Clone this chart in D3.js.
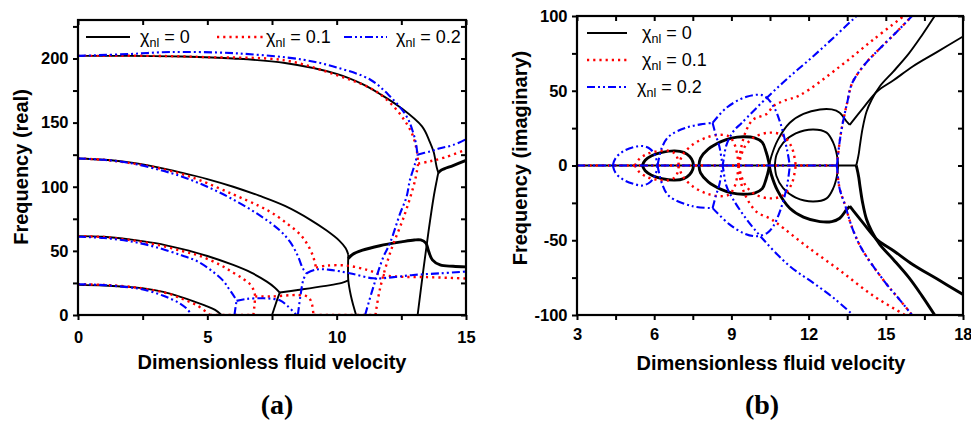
<!DOCTYPE html>
<html>
<head>
<meta charset="utf-8">
<script src="https://cdnjs.cloudflare.com/ajax/libs/d3/7.8.5/d3.min.js"></script>
<style>
  body { margin: 0; background: #fff; }
  .tick text { font-family: "Liberation Sans", Arial, sans-serif; font-weight: bold; font-size: 16.5px; fill: #000; }
  .title { font-family: "Liberation Sans", Arial, sans-serif; font-weight: bold; font-size: 20px; }
  .leg { font-family: "Liberation Sans", Arial, sans-serif; font-size: 18px; }
  .panel { font-family: "Liberation Serif", "Times New Roman", serif; font-weight: bold; font-size: 28px; }
</style>
</head>
<body>
<div id="chart"></div>
<script>
// ---------- data (velocity, frequency) ----------
var legendLabels = ["0", "0.1", "0.2"];

// panel (a): real part
var realBlack = [
  [[0,23.5],[1,23],[2,21.8],[2.6,20.6],[3.3,18],[3.9,14.5],[4.5,10.5],[4.9,7.5],[5.3,4],[5.55,0]],
  [[5.55,0],[7.5,0]],
  [[0,61.5],[1,61],[2,59],[3,56],[4,51.5],[5,46],[6,39],[6.7,33],[7.3,26],[7.6,21.5],[7.8,17.5]],
  [[7.5,0],[7.6,6],[7.7,12],[7.8,17.5]],
  [[7.8,17.5],[8.5,19.5],[9.5,22.5],[10.2,25],[10.45,27]],
  [[0,122],[1,121],[2,119],[3,115.5],[4,111],[5,106],[6,100],[7,93],[8,85],[9,74],[9.6,66],[10.1,58],[10.35,52],[10.45,47]],
  [[10.45,47],[10.44,38],[10.45,27],[10.55,15],[10.65,7],[10.75,0]],
  [[10.75,0],[13.13,0]],
  [[10.45,44],[10.6,47],[11,50.5],[11.67,54],[12.5,57],[13,58.5],[13.25,58.5],[13.45,56],[13.55,50],[13.7,43],[14,39],[14.5,38],[15,37.5]],
  [[0,202],[2,202],[4,201.5],[6,200],[8,196.5],[10,188],[11,180],[11.7,172],[12.45,162],[13.3,147],[13.6,135],[13.75,127],[13.87,115],[13.93,111]],
  [[13.13,0],[13.35,35],[13.55,65],[13.75,92],[13.87,105],[13.93,111]],
  [[13.93,111],[14.05,113],[14.5,116.5],[15,120.5]]
];
var realRed = [
  [[0,24],[1,23.5],[2,22],[3,19],[3.6,16],[4.1,12],[4.6,7.5],[5.1,0]],
  [[5.1,0],[6.8,0]],
  [[0,61.5],[1,60.8],[2,58.5],[3,55],[4,50],[4.72,46],[5.5,39],[6,33],[6.4,28],[6.65,24],[6.8,19],[6.85,14.5]],
  [[6.78,0],[6.82,7],[6.85,14.5]],
  [[6.85,14.5],[7.5,14.5],[8.5,15.5],[8.9,14],[9.05,8],[9.1,0]],
  [[9.1,0],[11.5,0]],
  [[0,122],[1,121],[2,118.5],[3,115],[4,110],[4.72,105],[6,94],[7,85],[7.55,79],[8.1,71],[8.58,63],[8.9,54],[9.1,45],[9.2,37]],
  [[9.2,37],[9.6,38.5],[10.4,38.5],[11.2,35],[11.7,31.5],[12.3,30],[13.5,29.5],[15,28.5]],
  [[11.5,0],[11.67,20],[12.06,48],[12.64,79],[13.03,105],[13.15,118]],
  [[0,202],[3,202],[5,201],[8,198.5],[10,187],[11.29,177],[11.93,168],[12.51,155],[12.9,142],[13.09,129],[13.15,118]],
  [[13.15,118],[13.6,119.8],[14.2,123],[15,129]]
];
var realBlue = [
  [[0,24],[1,23.3],[2,21.5],[2.6,19.5],[3.3,15],[3.9,9.5],[4.2,5],[4.4,0]],
  [[4.4,0],[6.05,0]],
  [[0,61],[1,60],[2,57.5],[3,53],[4,46.5],[4.6,42],[5.2,34],[5.6,27],[5.85,20],[6.05,14],[6.13,11]],
  [[6.05,0],[6.09,6],[6.13,11]],
  [[6.13,11],[6.5,12.5],[7.2,13],[7.8,11.5],[8.1,7],[8.45,0]],
  [[8.45,0],[11.1,0]],
  [[0,122],[1,121],[2,118.5],[3,114],[4,108],[5,100],[6,90],[7,78],[7.8,66],[8.2,57],[8.5,46],[8.7,36],[8.84,32.6]],
  [[8.5,0],[8.6,15],[8.72,28],[8.84,32.6]],
  [[8.84,32.6],[9.23,35.5],[9.74,35.2],[10.5,32.6],[11.42,28.6],[12.2,29.5],[12.96,31.2],[14,32.5],[15,33.9]],
  [[11.1,0],[11.42,22],[11.8,45],[12.06,56],[12.45,79],[12.7,92],[12.83,105],[13.03,118],[13.12,125]],
  [[0,202],[2,203.5],[3.56,205],[6.13,204],[8.71,199],[10,193],[11.29,183.6],[12.06,170.5],[12.7,155],[12.96,142],[13.08,132],[13.12,125]],
  [[13.12,125],[13.6,127.5],[14,130],[14.5,132.5],[15,137]]
];

// panel (b): imaginary part
var imagBlack = [
  [[3,0],[13.85,0]],
  [[5.54,0],[5.65,3.5],[5.9,6.5],[6.3,8.8],[6.8,9.8],[7.15,8.8],[7.38,6],[7.5,2.5],[7.52,0]],
  [[5.54,0],[5.65,-3.5],[5.9,-6.5],[6.3,-8.8],[6.8,-9.8],[7.15,-8.8],[7.38,-6],[7.5,-2.5],[7.52,0]],
  [[7.74,0],[7.8,5],[8.1,11],[8.6,16],[9,18.3],[9.46,19.2],[9.9,18.5],[10.2,15.5],[10.35,9],[10.45,2.5],[10.47,0]],
  [[7.74,0],[7.8,-5],[8.1,-11],[8.6,-16],[9,-18.3],[9.46,-19.2],[9.9,-18.5],[10.2,-15.5],[10.35,-9],[10.45,-2.5],[10.47,0]],
  [[10.69,0],[10.75,7],[11.01,15.2],[11.5,21.5],[12.18,24.1],[12.7,22],[12.96,15.2],[13.1,7],[13.15,0]],
  [[10.69,0],[10.75,-7],[11.01,-15.2],[11.5,-21.5],[12.18,-24.1],[12.7,-22],[12.96,-15.2],[13.1,-7],[13.15,0]],
  [[10.47,0],[10.55,6],[10.8,17],[11.27,28.6],[11.8,34.5],[12.44,37.5],[12.9,37.5],[13.21,35.3],[13.47,29.6],[13.6,27.2]],
  [[10.47,0],[10.55,-6],[10.8,-17],[11.27,-28.6],[11.8,-34.5],[12.44,-37.5],[12.9,-37.5],[13.21,-35.3],[13.47,-29.6],[13.6,-27.2]],
  [[13.6,27.2],[13.75,30.5],[14.1,38],[14.67,49.7],[15.3,57],[16.06,66.4],[17,76],[18,86.3]],
  [[13.6,-27.2],[13.75,-30.5],[14.1,-38],[14.67,-49.7],[15.3,-57],[16.06,-66.4],[17,-76],[18,-86.3]],
  [[13.85,0],[13.88,2],[13.95,8],[13.99,13],[14.1,25],[14.25,36],[14.45,44],[14.77,53],[15.3,63],[15.9,75],[16.4,87],[16.9,100]],
  [[13.85,0],[13.88,-2],[13.95,-8],[13.99,-13],[14.1,-25],[14.25,-36],[14.45,-44],[14.77,-53],[15.3,-63],[15.9,-75],[16.4,-87],[16.9,-100]]
];
var imagRed = [
  [[3,0],[13.1,0]],
  [[5.25,0],[5.4,4],[5.7,7.5],[6.1,9.5],[6.5,10],[6.8,8],[6.92,4],[6.95,0]],
  [[5.25,0],[5.4,-4],[5.7,-7.5],[6.1,-9.5],[6.5,-10],[6.8,-8],[6.92,-4],[6.95,0]],
  [[6.95,0],[7.1,7],[7.5,14],[8,18.5],[8.5,20.5],[8.9,19.5],[9.1,15],[9.22,8],[9.28,0]],
  [[6.95,0],[7.1,-7],[7.5,-14],[8,-18.5],[8.5,-20.5],[8.9,-19.5],[9.1,-15],[9.22,-8],[9.28,0]],
  [[9.28,0],[9.38,12],[9.59,24],[9.85,30.8],[10.37,34.5],[10.63,39.7],[11,43],[11.66,47],[13.2,66],[14.5,84],[15.7,100]],
  [[9.28,0],[9.38,-12],[9.6,-22],[9.98,-31],[10.5,-35.5],[10.8,-39],[11.92,-54],[13.2,-70],[14.5,-87],[15.75,-100]],
  [[9.28,0],[9.5,12],[9.9,19],[10.5,22],[11,20],[11.35,12],[11.5,0]],
  [[9.28,0],[9.5,-12],[9.9,-19],[10.5,-22],[11,-20],[11.35,-12],[11.5,0]],
  [[13.1,0],[13.2,15],[13.3,26],[13.5,42],[13.69,55],[14.2,68],[14.73,77.6],[15.4,89],[16.02,100]],
  [[13.1,0],[13.2,-15],[13.43,-27.2],[13.7,-42],[14.08,-56.2],[14.99,-78.5],[15.5,-89],[16.02,-100]]
];
var imagBlue = [
  [[3,0],[13.1,0]],
  [[4.39,0],[4.5,5],[4.8,9.5],[5.2,12.3],[5.55,13],[5.85,11],[6.05,6],[6.13,0]],
  [[4.39,0],[4.5,-5],[4.8,-9.5],[5.2,-12.3],[5.55,-13.4],[5.85,-11],[6.05,-6],[6.13,0]],
  [[6.13,0],[6.3,12],[6.58,19.6],[7.23,25.2],[7.8,27.5],[8.27,28.5]],
  [[6.13,0],[6.3,-12],[6.58,-20.5],[7.49,-27.2],[8.27,-28.5]],
  [[8.27,28.5],[8.4,20],[8.53,12.9],[8.66,0],[8.81,-13.8],[9.07,-22.7],[9.59,-36],[10.24,-49.5],[11.27,-67.4],[12.18,-78.5],[13,-89],[13.73,-100]],
  [[8.27,-28.5],[8.4,-20],[8.53,-12.9],[8.66,0],[8.81,13.8],[9.07,22.7],[9.4,28.5],[10.44,46.4],[11.3,60],[12.18,73.1],[13,86],[13.86,100]],
  [[8.27,28.5],[8.8,38.5],[9.59,46],[10.24,46.8],[10.63,39.7],[10.9,28.5],[11.16,10.7],[11.27,0]],
  [[8.27,-28.5],[8.9,-39],[9.5,-45.5],[9.98,-47.3],[10.4,-45],[10.63,-40.6],[10.9,-30],[11.16,-13.8],[11.27,0]],
  [[13.1,0],[13.2,15],[13.3,26],[13.5,42],[13.69,55],[14.2,68],[14.73,77.6],[15.4,89],[16.02,100]],
  [[13.1,0],[13.2,-15],[13.43,-27.2],[13.7,-42],[14.08,-56.2],[14.99,-78.5],[15.5,-89],[16.02,-100]]
];

// which black segments are drawn with the heavier pen
var boldRealBlack = [8, 11];
var boldImagBlack = [1, 2, 3, 4, 8, 10, 12];

var xTicksA = [0, 2.5, 5, 7.5, 10, 12.5, 15];
var yTicksA = [0, 25, 50, 75, 100, 125, 150, 175, 200, 225];
var xTicksB = [3, 4.5, 6, 7.5, 9, 10.5, 12, 13.5, 15, 16.5, 18];
var yTicksB = [-100, -75, -50, -25, 0, 25, 50, 75, 100];

// ---------- drawing ----------
var svg = d3.select("#chart").append("svg").attr("width", 971).attr("height", 423);

var styles = [
  { color: "#000", dash: null, width: 1.9 },
  { color: "#ff0000", dash: "2.2,4", width: 2.4 },
  { color: "#0000ff", dash: "8,3,2,3,2,3", width: 2.1 }
];

function drawPanel(opt) {
  var x = d3.scaleLinear().domain(opt.xDomain).range([opt.left, opt.right]);
  var y = d3.scaleLinear().domain(opt.yDomain).range([opt.bottom, opt.top]);
  var g = svg.append("g");

  var clipId = "clip" + opt.name;
  svg.append("clipPath").attr("id", clipId).append("rect")
     .attr("x", opt.left).attr("y", opt.top)
     .attr("width", opt.right - opt.left).attr("height", opt.bottom - opt.top);

  var line = d3.line().x(d => x(d[0])).y(d => y(d[1])).curve(d3.curveCatmullRom.alpha(0.5));
  var plot = g.append("g").attr("clip-path", "url(#" + clipId + ")");
  opt.series.forEach(function(segs, i) {
    plot.selectAll(null).data(segs).enter().append("path")
        .attr("d", line)
        .attr("fill", "none")
        .attr("stroke", styles[i].color)
        .attr("stroke-width", (d, k) => (i === 0 && opt.bold.indexOf(k) >= 0) ? 2.9 : styles[i].width)
        .attr("stroke-dasharray", styles[i].dash)
        .attr("stroke-linejoin", "round");
  });

  var fmt = function(d) { return opt.labels.indexOf(d) >= 0 ? d : ""; };

  var bx = g.append("g").attr("transform", "translate(0," + opt.bottom + ")")
     .call(d3.axisBottom(x).tickValues(opt.xTicks).tickFormat(fmt).tickSize(5).tickPadding(opt.xPad))
     .call(a => a.select(".domain").remove());
  if (opt.lastAnchor) bx.selectAll(".tick text").filter(d => d === opt.xDomain[1]).attr("text-anchor", "end").attr("dx", 9);
  g.append("g").attr("transform", "translate(" + opt.left + ",0)")
     .call(d3.axisLeft(y).tickValues(opt.yTicks).tickFormat(fmt).tickSize(5).tickPadding(4.5))
     .call(a => a.select(".domain").remove());
  g.append("g").attr("transform", "translate(0," + opt.top + ")")
     .call(d3.axisTop(x).tickValues(opt.xTicks).tickFormat("").tickSize(-5))
     .call(a => a.select(".domain").remove());
  g.append("g").attr("transform", "translate(" + opt.right + ",0)")
     .call(d3.axisRight(y).tickValues(opt.yTicks).tickFormat("").tickSize(-5))
     .call(a => a.select(".domain").remove());
  g.selectAll(".tick line").attr("stroke-width", 2);

  g.append("rect")
     .attr("x", opt.left).attr("y", opt.top)
     .attr("width", opt.right - opt.left).attr("height", opt.bottom - opt.top)
     .attr("fill", "none").attr("stroke", "#000").attr("stroke-width", 2.2);

  // axis titles
  g.append("text").attr("class", "title")
     .attr("x", opt.xTitle[0]).attr("y", opt.xTitle[1])
     .attr("text-anchor", "middle").text("Dimensionless fluid velocity");
  g.append("text").attr("class", "title")
     .attr("transform", "translate(" + opt.yTitle[0] + "," + opt.yTitle[1] + ") rotate(-90)")
     .attr("text-anchor", "middle").text(opt.yLabel);
  g.append("text").attr("class", "panel")
     .attr("x", opt.tag[0]).attr("y", opt.tag[1])
     .attr("text-anchor", "middle").text(opt.tagText);

  // legend
  opt.legend.forEach(function(p, i) {
    g.append("line")
      .attr("x1", p[0]).attr("x2", p[1]).attr("y1", p[2]).attr("y2", p[2])
      .attr("stroke", styles[i].color).attr("stroke-width", styles[i].width)
      .attr("stroke-dasharray", styles[i].dash);
    var t = g.append("text").attr("class", "leg").attr("x", p[3]).attr("y", p[2] + 6);
    t.append("tspan").text("\u03c7");
    t.append("tspan").attr("dy", 4).attr("font-size", 12.5).text("nl");
    t.append("tspan").attr("dy", -4).text(" = " + legendLabels[i]);
  });
}

drawPanel({
  name: "a", xDomain: [0, 15], yDomain: [0, 230],
  left: 78, right: 466, top: 20, bottom: 315,
  series: [realBlack, realRed, realBlue], bold: boldRealBlack,
  xTicks: xTicksA, yTicks: yTicksA, labels: [0, 5, 10, 15, 50, 100, 150, 200],
  xPad: 11, xTitle: [272, 369], yTitle: [28, 167], yLabel: "Frequency (real)",
  tag: [277, 414], tagText: "(a)",
  legend: [[86, 130, 37, 140], [217, 263, 37, 266], [344, 387, 37, 396]]
});

drawPanel({
  name: "b", xDomain: [3, 18], yDomain: [-100, 100],
  left: 577, right: 963, top: 16, bottom: 315,
  series: [imagBlack, imagRed, imagBlue], bold: boldImagBlack,
  xTicks: xTicksB, yTicks: yTicksB, labels: [3, 6, 9, 12, 15, 18, -100, -50, 0, 50, 100],
  xPad: 8, lastAnchor: true, xTitle: [771, 370], yTitle: [527, 158], yLabel: "Frequency (imaginary)",
  tag: [762, 414], tagText: "(b)",
  legend: [[587, 627, 33, 642], [587, 627, 60, 642], [587, 627, 87, 637]]
});
</script>
</body>
</html>
